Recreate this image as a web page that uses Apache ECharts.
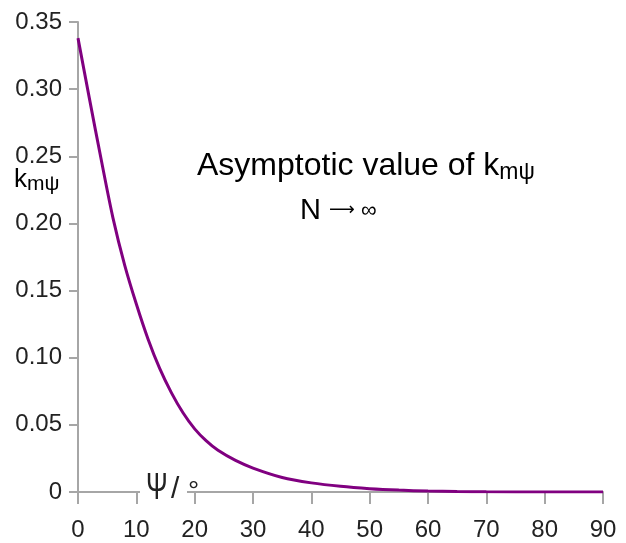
<!DOCTYPE html>
<html>
<head>
<meta charset="utf-8">
<script src="https://cdn.jsdelivr.net/npm/echarts@6/dist/echarts.min.js"></script>
<style>html,body{margin:0;padding:0;background:#fff;}#c{width:626px;height:543px;}</style>
</head>
<body>
<div id="c"></div>
<script>
const psiDeg = [0, 2, 4, 6, 8, 10, 12, 14, 16, 18, 20, 22, 24, 27, 30, 35, 40, 45, 50, 55, 60, 65, 70, 80, 90];
const kValues = [0.338, 0.292, 0.247, 0.204, 0.169, 0.140, 0.114, 0.092, 0.074, 0.059, 0.047, 0.038, 0.031, 0.0235, 0.0178, 0.0108, 0.0068, 0.0042, 0.0025, 0.0014, 0.0007, 0.0003, 0.0001, 0, 0];
const xTickLabels = ['0', '10', '20', '30', '40', '50', '60', '70', '80', '90'];
const yTickLabels = ['0', '0.05', '0.10', '0.15', '0.20', '0.25', '0.30', '0.35'];

const FONT = 'Liberation Sans, Arial, sans-serif';
const TXT = '#222';
const AX = '#a6a6a6';

const chart = echarts.init(document.getElementById('c'), null, {renderer: 'canvas'});
chart.setOption({
  animation: false,
  backgroundColor: '#fff',
  grid: {left: 78, right: 23, top: 22, bottom: 51},
  xAxis: {
    type: 'value', min: 0, max: 90, interval: 10,
    axisLine: {lineStyle: {color: AX, width: 2}},
    axisTick: {length: 12, lineStyle: {color: AX, width: 2}},
    splitLine: {show: false},
    axisLabel: {
      margin: 26, fontFamily: FONT, fontSize: 24, color: TXT,
      formatter: v => xTickLabels[Math.round(v / 10)]
    }
  },
  yAxis: {
    type: 'value', min: 0, max: 0.35, interval: 0.05,
    axisLine: {show: true, lineStyle: {color: AX, width: 2}},
    axisTick: {show: true, length: 9, lineStyle: {color: AX, width: 2}},
    splitLine: {show: false},
    axisLabel: {
      margin: 16, fontFamily: FONT, fontSize: 24, color: TXT,
      formatter: v => yTickLabels[Math.round(v / 0.05)]
    }
  },
  series: [{
    type: 'line',
    data: psiDeg.map((x, i) => [x, kValues[i]]),
    smooth: 0.3,
    showSymbol: false,
    lineStyle: {color: '#800080', width: 3},
    z: 1
  }],
  graphic: [
    {
      type: 'rect', left: 140, top: 476, z: 100,
      shape: {width: 47, height: 26},
      style: {fill: '#fff'}
    },
    {
      type: 'text', x: 146, y: 489, z: 101, scaleX: 0.7,
      style: {text: 'Ψ', fontFamily: FONT, fontSize: 37, fill: TXT, verticalAlign: 'middle', align: 'left'}
    },
    {
      type: 'text', x: 171, y: 490, z: 101,
      style: {text: '/', fontFamily: FONT, fontSize: 30, fill: TXT, verticalAlign: 'middle', align: 'left'}
    },
    {
      type: 'text', x: 188, y: 492, z: 101,
      style: {text: '°', fontFamily: FONT, fontSize: 28, fill: TXT, verticalAlign: 'middle', align: 'left'}
    },
    {
      type: 'text', left: 14, top: 167, z: 100,
      style: {
        text: '{k|k}{s|mψ}',
        rich: {
          k: {fontFamily: FONT, fontSize: 26, color: TXT, lineHeight: 28, verticalAlign: 'top'},
          s: {fontFamily: FONT, fontSize: 21, color: TXT, lineHeight: 12, verticalAlign: 'bottom'}
        }
      }
    },
    {
      type: 'text', left: 197, top: 150, z: 100,
      style: {
        text: '{a|Asymptotic value of k}{s|mψ}',
        rich: {
          a: {fontFamily: FONT, fontSize: 32, color: TXT, lineHeight: 34, verticalAlign: 'top'},
          s: {fontFamily: FONT, fontSize: 23, color: TXT, lineHeight: 14, verticalAlign: 'bottom'}
        }
      }
    },
    {
      type: 'text', left: 300, top: 196, z: 100,
      style: {
        text: '{a|N }{b|⟶}{c| ∞}',
        rich: {
          a: {fontFamily: FONT, fontSize: 29, color: TXT},
          b: {fontFamily: 'DejaVu Sans', fontSize: 18, color: TXT},
          c: {fontFamily: FONT, fontSize: 22, color: TXT}
        }
      }
    }
  ]
});
</script>
</body>
</html>
